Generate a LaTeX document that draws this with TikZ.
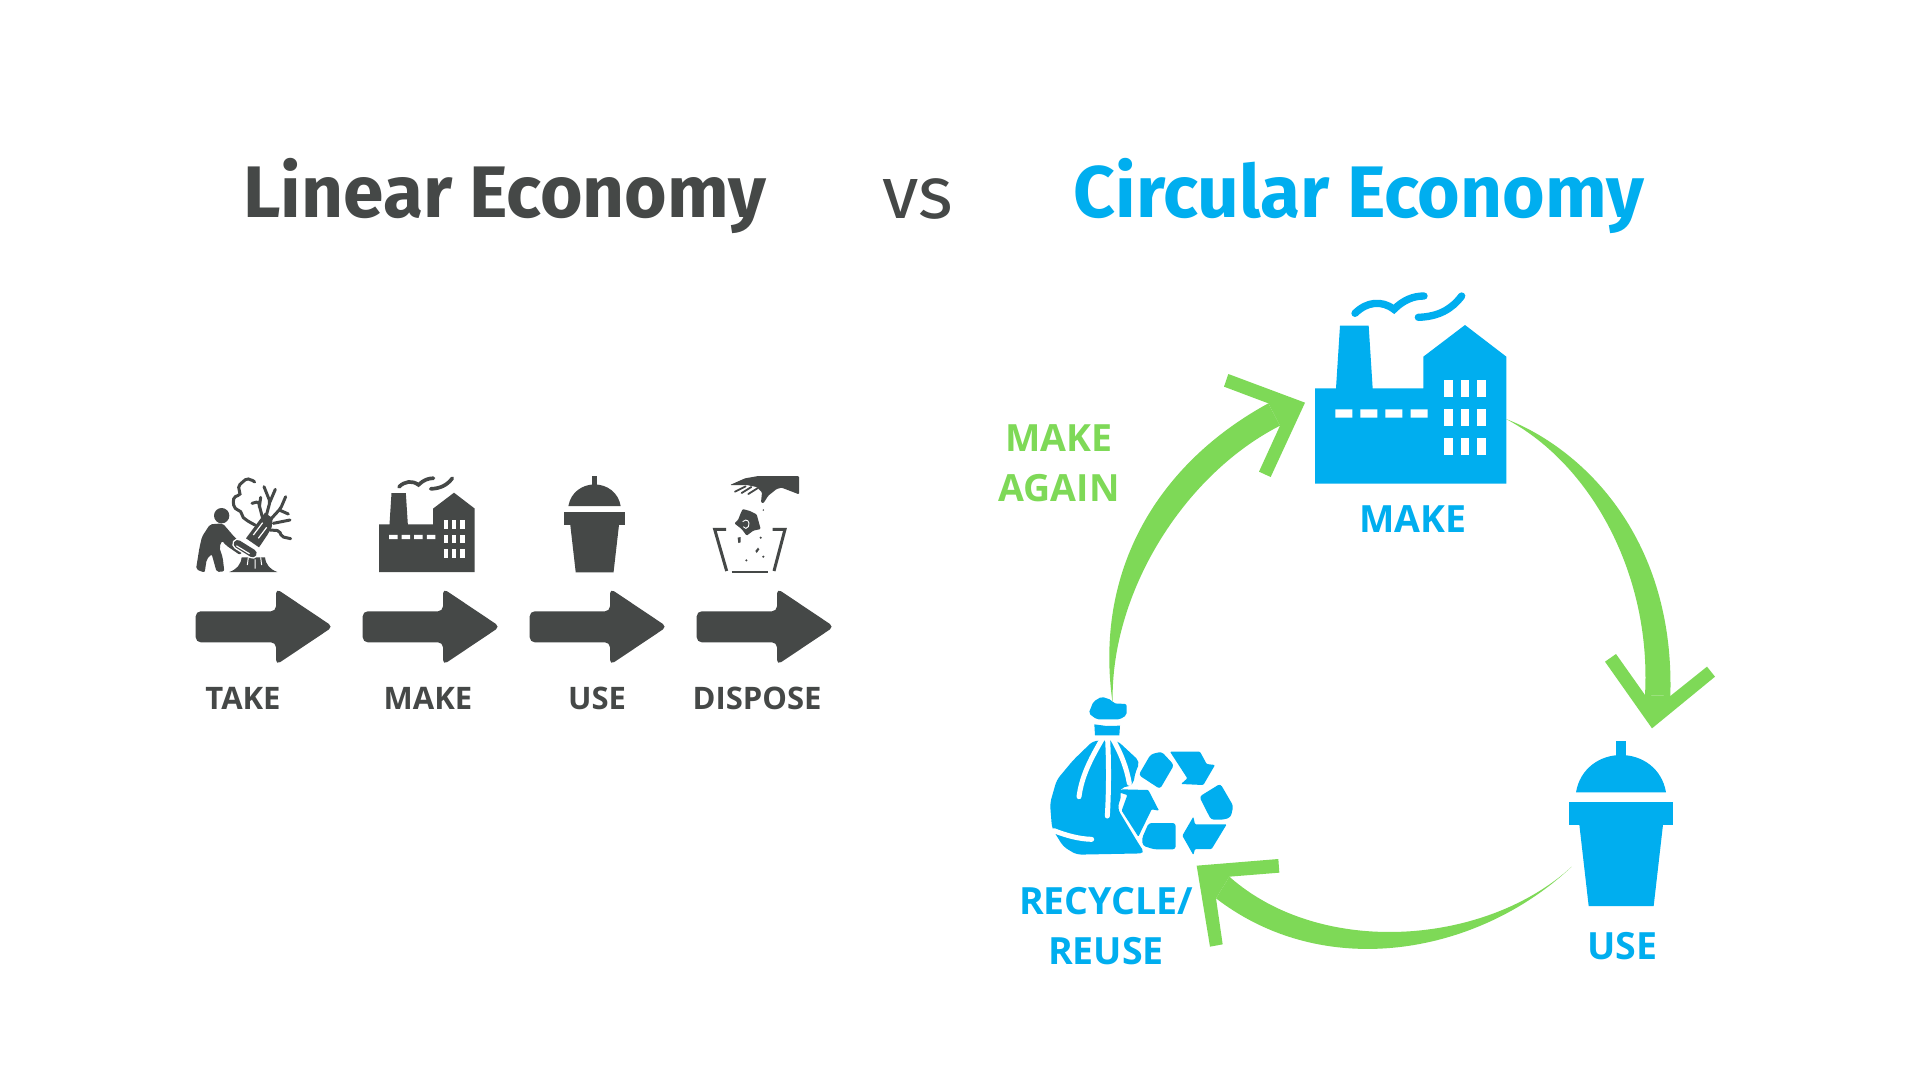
\documentclass[tikz,border=0pt]{standalone}
\usepackage{fontspec}
\setmainfont{Open Sans}
\newfontfamily\titlefont{Fira Sans}
\definecolor{darkgrey}{HTML}{454847}
\definecolor{skyblue}{HTML}{00AEEF}
\definecolor{leaf}{HTML}{7ED957}
\tikzset{
  smalllabel/.style={anchor=base,font=\fontsize{31}{34}\selectfont\bfseries,text=darkgrey,inner sep=0pt},
  biglabel/.style={anchor=base,font=\fontsize{37.5}{40}\selectfont\bfseries,text=skyblue,inner sep=0pt},
  greenlabel/.style={biglabel,text=leaf},
  titletext/.style={anchor=base,font=\titlefont\fontsize{73}{80}\selectfont\bfseries,inner sep=0pt},
  flowarrow/.style={fill=darkgrey,rounded corners=5pt},
  chevron/.style={fill=leaf},
}
% x y scale colour
\newcommand{\factoryicon}[4]{%
\begin{scope}[shift={(#1,#2)},scale=#3]
  \fill[#4] (285,355)--(348,355)--(360,167)--(446,167)--(458,355)--(610,355)--(610,260)--(735,165)--(859,260)--(859,641)--(285,641)--cycle;
  \fill[white] (346,418) rectangle (397,443) (421,418) rectangle (472,443) (496,418) rectangle (547,443) (572,418) rectangle (623,443);
  \foreach \wx in {672,722,772}{\foreach \wy in {330,417,504}{
    \fill[white] (\wx,\wy) rectangle ++(26,50);}}
  \draw[#4,line width={22pt*#3},line cap=round] (405,130) .. controls (440,95) and (485,90) .. (522,118) .. controls (550,90) and (580,78) .. (612,78);
  \draw[#4,line width={22pt*#3},line cap=round] (595,142) .. controls (655,140) and (695,118) .. (725,78);
\end{scope}}
\newcommand{\cupicon}[4]{%
\begin{scope}[shift={(#1,#2)},scale=#3]
  \fill[#4] (229,302) rectangle (258,350);
  \fill[#4] (108,457) .. controls (120,385) and (180,345) .. (243,345) .. controls (306,345) and (366,385) .. (378,457) -- cycle;
  \fill[#4] (88,487) rectangle (399,554);
  \fill[#4] (118,554)--(369,554)--(341,798)--(146,798)--cycle;
\end{scope}}
\newcommand{\flowshape}[1]{%
  \fill[flowarrow,shift={(#1,0)}] (195.7,611.3)--(276,611.3)--(276,588.5)--(333,626.7)--(276,664.9)--(276,642.3)--(195.7,642.3)--cycle;}
\begin{document}
\begin{tikzpicture}[x=1pt,y=-1pt]
\useasboundingbox (0,0) rectangle (1920,1080);
\fill[white] (0,0) rectangle (1920,1080);

% titles
\node[titletext,text=darkgrey] (tlinear) at (505,217) {Linear Economy};
\node[anchor=base,inner sep=0pt,font=\titlefont\fontsize{74}{80}\selectfont,text=darkgrey] (tvs) at (918,218) {vs};
\node[titletext,text=skyblue] (tcircular) at (1359,217) {Circular Economy};

% flow arrows
\flowshape{0}\flowshape{167}\flowshape{334}\flowshape{501}

% small labels
\node[smalllabel] (ltake) at (243,709) {TAKE};
\node[smalllabel] (lmake) at (428,709) {MAKE};
\node[smalllabel] (luse) at (597,709) {USE};
\node[smalllabel] (ldispose) at (757,709) {DISPOSE};

% small icons
\begin{scope}[shift={(190,470)},scale=1/3]
  % man
  \fill[darkgrey] (95,137) circle (23);
  \fill[darkgrey,rounded corners=2pt] (60,163)--(98,160)--(135,203)--(168,230)--(150,255)--(108,226)--(96,212)--(88,232)--(98,262)--(103,304)--(80,306)--(65,252)--(50,268)--(44,308)--(18,298)--(28,235)--(36,200)--cycle;
  % stump
  \fill[darkgrey] (118,306) .. controls (140,298) and (152,285) .. (155,262) -- (225,262) .. controls (228,285) and (240,298) .. (262,306) -- cycle;
  \draw[white,line width=1pt] (175,262)--(172,285) (195,268)--(195,296) (212,262)--(215,285);
  % trunk
  \fill[darkgrey] (168,205)--(205,155)--(225,128)--(248,145)--(245,172)--(232,195)--(207,232)--cycle;
  \draw[white,line width=1.2pt] (190,195)--(218,158) (205,205)--(230,172);
  % chainsaw
  \draw[white,line width=11pt,line cap=round] (143,222)--(188,250);
  \draw[darkgrey,line width=8pt,line cap=round] (143,222)--(188,250);
  \draw[white,line width=1.2pt,line cap=round] (140,228)--(178,251);
  % branches
  \draw[darkgrey,line width=3pt,line cap=round,rounded corners=2pt] (228,140)--(240,95)--(222,50) (238,100)--(256,58) (218,145)--(205,95)--(186,100) (208,112)--(212,82) (240,150)--(272,115)--(287,80) (268,120)--(295,132) (250,160)--(300,150) (240,180)--(268,182)--(275,200)--(302,206);
  % foliage outline
  \draw[darkgrey,line width=3pt,line cap=round] plot[smooth,tension=0.9] coordinates {(195,165)(172,152)(160,143)(152,125)(136,115)(130,95)(136,80)(150,72)(146,52)(158,36)(175,27)(194,36)};
\end{scope}
\factoryicon{331.5}{465.2}{0.16667}{darkgrey}
\cupicon{547.4}{417.5}{0.194}{darkgrey}
\begin{scope}[shift={(700,465)},scale=1/3]
  \fill[darkgrey,rounded corners=1pt] (90,60)--(135,40)--(175,33)--(297,33)--(297,88)--(245,68)--(230,72)--(205,92)--(190,115)--(183,112)--(186,82)--(170,66)--(140,60)--cycle;
  \draw[darkgrey,line width=1.8pt,line cap=round] (105,80)--(137,64) (125,84)--(154,66) (145,87)--(172,70);
  \fill[darkgrey,rounded corners=1pt] (122,145)--(128,132)--(150,138)--(170,148)--(182,192)--(160,197)--(140,212)--(125,192)--(103,175)--(114,165)--cycle;
  \draw[white,line width=0.9pt] (128,170) .. controls (140,158) and (152,170) .. (145,185) .. controls (140,192) and (135,192) .. (130,185);
  \draw[darkgrey,line width=3pt] (78,193)--(44,193)--(80,318);
  \draw[darkgrey,line width=3pt] (218,193)--(255,193)--(222,318);
  \draw[darkgrey,line width=1.8pt] (95,321)--(205,321);
  \fill[darkgrey] (190,135) circle (2.5) (182,218) circle (3.5) (190,275) circle (3.5) (139,286) circle (3.5);
  \fill[darkgrey] (113,218)--(122,216)--(122,232)--(115,234)--cycle (166,258)--(174,248)--(178,253)--(170,264)--cycle;
\end{scope}

% green arrows
\begin{scope}[shift={(1490,400)},scale=1/3]
  \fill[chevron] (48,57) .. controls (265,140) and (555,400) .. (541,888) -- (465,885) .. controls (485,520) and (300,190) .. (48,57) -- cycle;
  \fill[chevron] (486,985)--(675,830)--(651,800)--(541,888)--(465,885)--(378,762)--(345,785)--cycle;
\end{scope}
\begin{scope}[shift={(1180,850)},scale=1/3]
  \fill[chevron] (1175,50) .. controls (900,310) and (440,400) .. (108,145) -- (148,80) .. controls (425,325) and (920,285) .. (1175,50) -- cycle;
  \fill[chevron] (50,47)--(295,27)--(298,68)--(148,80)--(108,145)--(128,283)--(90,290)--cycle;
\end{scope}
\begin{scope}[shift={(1090,360)},scale=1/3]
  \fill[chevron] (68,1030) .. controls (10,630) and (205,310) .. (535,130) -- (570,197) .. controls (280,345) and (60,700) .. (68,1030) -- cycle;
  \fill[chevron] (645,128)--(415,42)--(402,80)--(535,130)--(570,197)--(507,335)--(542,351)--cycle;
\end{scope}

% big icons
\factoryicon{1220}{270}{0.33333}{skyblue}
\cupicon{1540}{640}{0.33333}{skyblue}
\begin{scope}[shift={(1030,680)},scale=1/3]
  % knot and neck
  \fill[skyblue,rounded corners=2pt] (176,100)--(190,65)--(215,50)--(245,60)--(250,70)--(290,72)--(290,105)--(270,118)--(200,118)--cycle;
  \fill[skyblue] (193,133)--(230,138)--(270,137)--(268,166)--(195,166)--cycle;
  % body
  \fill[skyblue,rounded corners=5pt] (190,182)--(130,240)--(80,300)--(60,370)--(66,445)--(100,500)--(140,524)--(345,520)--(325,490)--(262,385)--(275,345)--(268,325)--(310,315)--(315,280)--(330,245)--(262,182)--cycle;
  % creases
  \draw[white,line width=5pt,line cap=round] (215,180) .. controls (180,240) and (155,290) .. (147,350);
  \draw[white,line width=5pt,line cap=round] (233,180) .. controls (237,260) and (236,340) .. (232,408);
  \draw[white,line width=5pt,line cap=round] (250,180) .. controls (275,225) and (290,265) .. (298,310);
  \draw[white,line width=5pt,line cap=round] (72,452) .. controls (105,465) and (145,477) .. (185,478);
  % recycling pieces
  \fill[skyblue,rounded corners=3pt] (326,285)--(362,223)--(395,215)--(432,255)--(390,327)--cycle;
  \fill[skyblue,rounded corners=1pt] (420,215)--(510,215)--(530,252)--(555,255)--(520,315)--(453,312)--(472,295)--cycle;
  \fill[skyblue,rounded corners=3pt] (508,350)--(571,311)--(610,378)--(602,412)--(580,419)--(543,419)--cycle;
  \fill[skyblue,rounded corners=1pt] (590,433)--(545,507)--(495,507)--(490,525)--(457,467)--(490,410)--(495,433)--cycle;
  \fill[skyblue,rounded corners=3pt] (336,475)--(356,429)--(437,429)--(437,508)--(372,508)--(338,497)--cycle;
  \fill[skyblue,rounded corners=1pt] (275,328)--(355,330)--(387,392)--(365,388)--(325,470)--(275,392)--(292,345)--(270,338)--cycle;
\end{scope}

% big labels
\node[biglabel] (rmake) at (1413,532) {MAKE};
\node[biglabel] (ruse) at (1622,959) {USE};
\node[biglabel] (rrecycle) at (1106,914) {RECYCLE/};
\node[biglabel] (rreuse) at (1106,964) {REUSE};
\node[greenlabel] (gmake) at (1059,451) {MAKE};
\node[greenlabel] (gagain) at (1059,501) {AGAIN};
\end{tikzpicture}
\end{document}
